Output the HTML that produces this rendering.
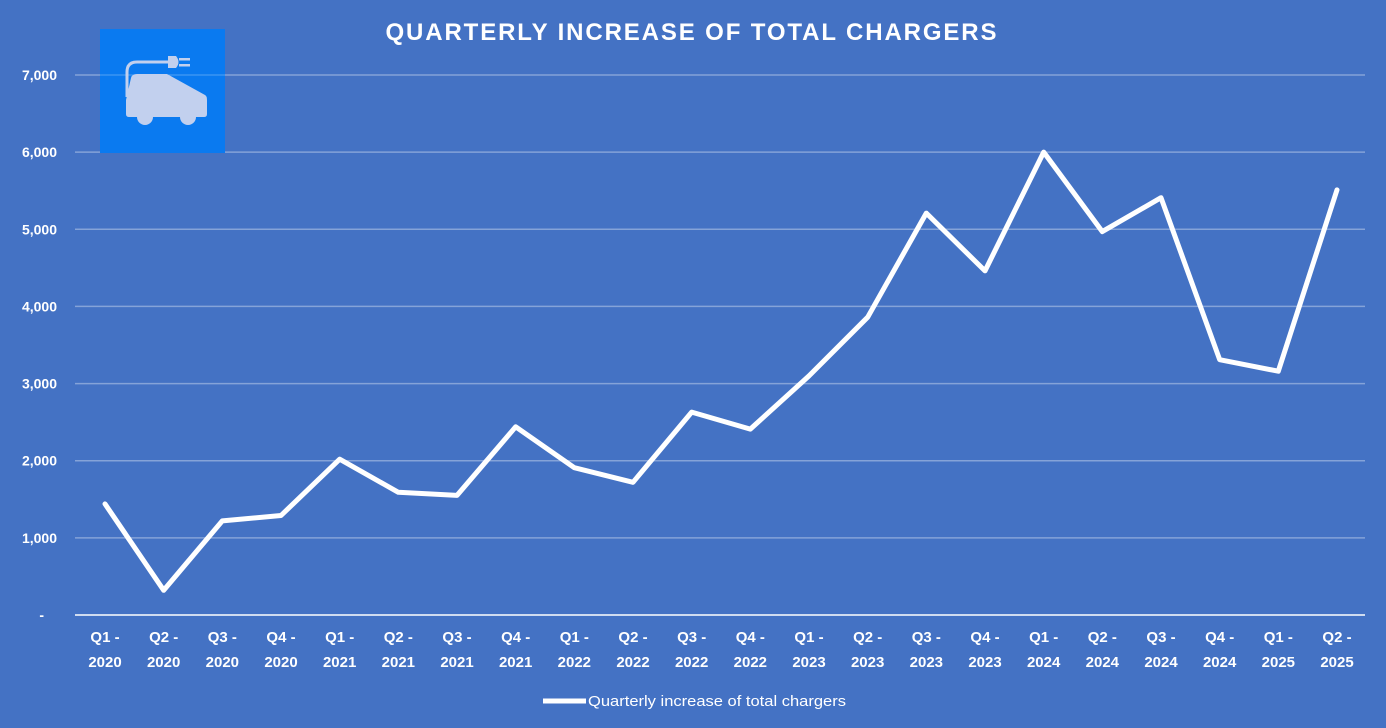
<!DOCTYPE html>
<html><head><meta charset="utf-8"><style>
html,body{margin:0;padding:0;background:#4472C4;}
svg{display:block;font-family:"Liberation Sans",sans-serif;}
</style></head><body>
<svg id="chart" width="1386" height="728">
<rect x="0" y="0" width="1386" height="728" fill="#4472C4"/>
<text x="691" y="40" text-anchor="middle" fill="#fff" font-size="24" font-weight="bold" textLength="611" lengthAdjust="spacing">QUARTERLY INCREASE OF TOTAL CHARGERS</text>
<g id="grid"></g>
<g id="yticks"></g>
<g id="xticks"></g>
<g>
<rect x="100" y="29" width="125" height="124" fill="#0A7AF0"/>
<line x1="100" y1="75" x2="225" y2="75" stroke="rgba(255,255,255,0.3)" stroke-width="1"/>
<path d="M127 97 L127 72 Q127 62 137 62 L170 62" fill="none" stroke="#C2D0EE" stroke-width="3"/>
<path d="M168 56 L176 56 Q181 62 176 68 L168 68 Z" fill="#C2D0EE"/>
<rect x="179" y="58" width="11" height="2.5" fill="#C2D0EE"/>
<rect x="179" y="64" width="11" height="2.5" fill="#C2D0EE"/>
<path d="M137 74 L167 74 L205 95 Q207 96 207 100 L207 114 Q207 117 204 117 L129 117 Q126 117 126 114 L126 100 L131 78 Q132 74 137 74 Z" fill="#C2D0EE"/>
<circle cx="145" cy="117" r="8" fill="#C2D0EE"/>
<circle cx="188" cy="117" r="8" fill="#C2D0EE"/>
</g>
<line x1="75" y1="615" x2="1365" y2="615" stroke="#fff" stroke-width="1.5"/>
<path id="series" fill="none" stroke="#fff" stroke-width="5" stroke-linejoin="round" stroke-linecap="round"/>
<g>
<line x1="543" y1="701" x2="586" y2="701" stroke="#fff" stroke-width="5"/>
<text x="588" y="706" fill="#fff" font-size="15" textLength="258" lengthAdjust="spacingAndGlyphs">Quarterly increase of total chargers</text>
</g>
</svg>
<script>
const quarters=["Q1","Q2","Q3","Q4","Q1","Q2","Q3","Q4","Q1","Q2","Q3","Q4","Q1","Q2","Q3","Q4","Q1","Q2","Q3","Q4","Q1","Q2"];
const years=["2020","2020","2020","2020","2021","2021","2021","2021","2022","2022","2022","2022","2023","2023","2023","2023","2024","2024","2024","2024","2025","2025"];
const values=[1440,320,1220,1290,2020,1590,1550,2440,1910,1720,2630,2410,3100,3860,5210,4460,6000,4970,5410,3310,3160,5510];
const yTicks=[0,1000,2000,3000,4000,5000,6000,7000];
const yTickLabels=["-","1,000","2,000","3,000","4,000","5,000","6,000","7,000"];
const NS="http://www.w3.org/2000/svg";
const y0=615,yPer=540/7000,x0=105,xStep=(1337-105)/21;
function yS(v){return y0-v*yPer;}
function xS(i){return x0+i*xStep;}
const grid=document.getElementById('grid'),yt=document.getElementById('yticks'),xt=document.getElementById('xticks');
yTicks.forEach((t,i)=>{
 if(t>0){const l=document.createElementNS(NS,'line');
 
 
 l.setAttribute('x1',75);l.setAttribute('x2',1365);l.setAttribute('y1',yS(t));l.setAttribute('y2',yS(t));
 l.setAttribute('stroke','rgba(255,255,255,0.35)');l.setAttribute('stroke-width','1.5');grid.appendChild(l);}
 const tx=document.createElementNS(NS,'text');
 
 
 tx.setAttribute('x',t>0?57:44);tx.setAttribute('y',yS(t)+5);tx.setAttribute('text-anchor','end');
 tx.setAttribute('fill','#fff');tx.setAttribute('font-size','14');tx.setAttribute('font-weight','bold');tx.textContent=yTickLabels[i];yt.appendChild(tx);
});
quarters.forEach((q,i)=>{
 const tx=document.createElementNS(NS,'text');
 
 
 tx.setAttribute('text-anchor','middle');tx.setAttribute('fill','#fff');tx.setAttribute('font-size','15');tx.setAttribute('font-weight','bold');
 const a=document.createElementNS(NS,'tspan');a.setAttribute('x',xS(i));a.setAttribute('y',642);a.textContent=q+" -";
 const b=document.createElementNS(NS,'tspan');b.setAttribute('x',xS(i));b.setAttribute('y',667);b.textContent=years[i];
 tx.appendChild(a);tx.appendChild(b);xt.appendChild(tx);
});
document.getElementById('series').setAttribute('d',values.map((v,i)=>(i?'L':'M')+xS(i).toFixed(1)+' '+yS(v).toFixed(1)).join(' '));
</script>
</body></html>
